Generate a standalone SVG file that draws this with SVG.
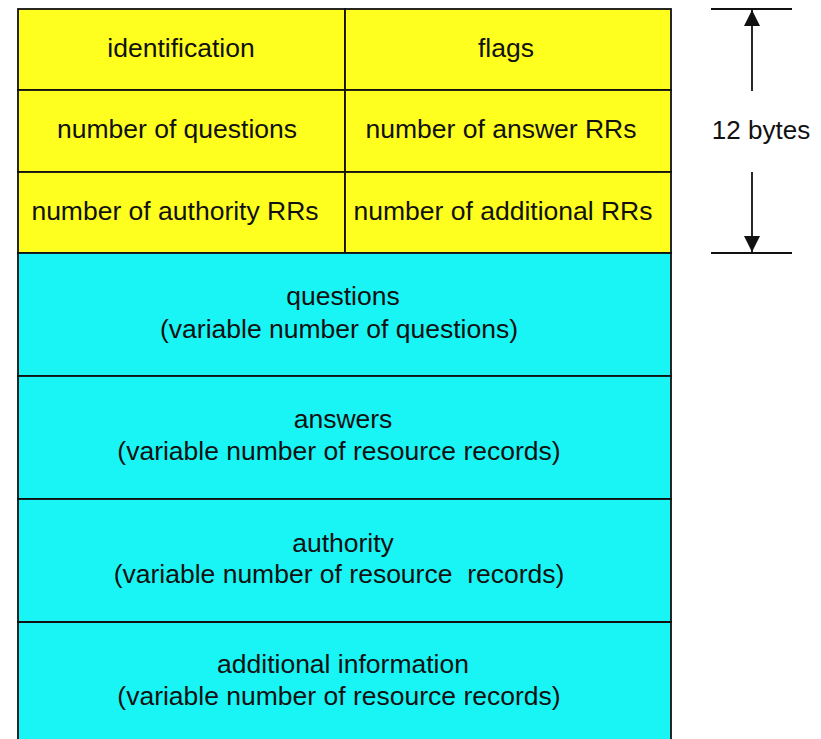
<svg xmlns="http://www.w3.org/2000/svg" width="821" height="739" viewBox="0 0 821 739">
<style>
.y{fill:#ffff1f;stroke:#111;stroke-width:1.8}
.c{fill:#19f5f5;stroke:#111;stroke-width:1.8}
text{font-family:"Liberation Sans",Arial,sans-serif;font-size:26.5px;fill:#111;text-anchor:middle}
.ln{stroke:#111;stroke-width:1.8;fill:none}
</style>
<defs>
<marker id="ah" viewBox="0 0 10 10" refX="10" refY="5" markerWidth="16" markerHeight="16" markerUnits="userSpaceOnUse" orient="auto">
<path d="M0,0 L10,5 L0,10 Z" fill="#111"/>
</marker>
</defs>
<rect width="821" height="739" fill="#fff"/>
<g id="identification"><rect class="y" x="18" y="9" width="327" height="81"/><text x="181" y="57">identification</text></g>
<g id="flags"><rect class="y" x="345" y="9" width="326" height="81"/><text x="506" y="57">flags</text></g>
<g id="num-questions"><rect class="y" x="18" y="90" width="327" height="82"/><text x="177" y="138">number of questions</text></g>
<g id="num-answer"><rect class="y" x="345" y="90" width="326" height="82"/><text x="501" y="138">number of answer RRs</text></g>
<g id="num-authority"><rect class="y" x="18" y="172" width="327" height="81"/><text x="175" y="220">number of authority RRs</text></g>
<g id="num-additional"><rect class="y" x="345" y="172" width="326" height="81"/><text x="503" y="220">number of additional RRs</text></g>
<g id="questions"><rect class="c" x="18" y="253" width="653" height="123"/><text x="343" y="305">questions</text><text x="339" y="338">(variable number of questions)</text></g>
<g id="answers"><rect class="c" x="18" y="376" width="653" height="123"/><text x="343" y="428">answers</text><text x="339" y="460">(variable number of resource records)</text></g>
<g id="authority"><rect class="c" x="18" y="499" width="653" height="123"/><text x="343" y="552">authority</text><text x="339" y="583" xml:space="preserve">(variable number of resource  records)</text></g>
<g id="additional"><path class="c" d="M18,745 L18,622 L671,622 L671,745"/><text x="343" y="673">additional information</text><text x="339" y="705">(variable number of resource records)</text></g>
<g id="connectors">
<line class="ln" x1="711" y1="9" x2="792" y2="9"/>
<line class="ln" x1="711" y1="253" x2="792" y2="253"/>
<line class="ln" x1="752" y1="91" x2="752" y2="10" marker-end="url(#ah)"/>
<line class="ln" x1="752" y1="172" x2="752" y2="252" marker-end="url(#ah)"/>
</g>
<g id="label"><text x="761" y="139" style="font-size:26px">12 bytes</text></g>
</svg>
